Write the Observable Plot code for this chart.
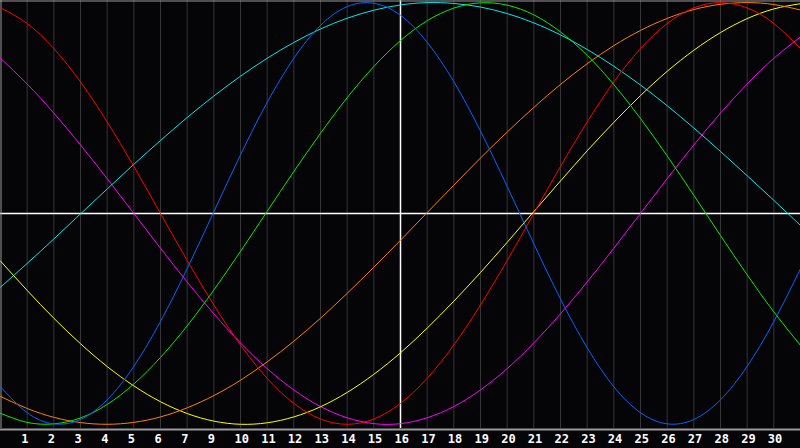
<!DOCTYPE html>
<html><head><meta charset="utf-8">
<script src="https://cdn.jsdelivr.net/npm/d3@7"></script>
<script src="https://cdn.jsdelivr.net/npm/@observablehq/plot@0.6"></script>
<style>html,body{margin:0;padding:0;background:#050508;overflow:hidden}</style>
</head><body><div id="chart"></div>
<script>
// day index (0..30) along the x axis
const days = [0,1,2,3,4,5,6,7,8,9,10,11,12,13,14,15,16,17,18,19,20,21,22,23,24,25,26,27,28,29,30];

// cycle values (-1..1)
const physical = [-0.822,-0.945,-0.998,-0.977,-0.884,-0.725,-0.512,-0.262,0.008,0.278,0.527,0.736,0.892,0.981,0.997,0.940,0.812,0.625,0.391,0.128,-0.144,-0.406,-0.637,-0.822,-0.945,-0.998,-0.977,-0.884,-0.725,-0.513,-0.262];
const emotional = [0.975,0.901,0.782,0.624,0.434,0.223,0.000,-0.223,-0.434,-0.624,-0.782,-0.901,-0.975,-1.000,-0.975,-0.901,-0.782,-0.624,-0.434,-0.223,0.000,0.223,0.434,0.624,0.782,0.901,0.975,1.000,0.975,0.901,0.782];
const intellectual = [-0.948,-0.991,-0.998,-0.970,-0.906,-0.809,-0.683,-0.533,-0.363,-0.180,0.010,0.199,0.380,0.549,0.697,0.820,0.914,0.974,0.999,0.988,0.942,0.861,0.750,0.611,0.450,0.273,0.086,-0.105,-0.291,-0.467,-0.626];
const intuitive = [0.736,0.614,0.476,0.325,0.165,0.000,-0.165,-0.325,-0.476,-0.614,-0.736,-0.837,-0.916,-0.969,-0.997,-0.997,-0.969,-0.916,-0.837,-0.736,-0.614,-0.476,-0.325,-0.165,0.000,0.165,0.325,0.476,0.614,0.736,0.837];
const aesthetic = [-0.226,-0.365,-0.497,-0.618,-0.726,-0.818,-0.893,-0.949,-0.985,-1.000,-0.993,-0.965,-0.917,-0.849,-0.763,-0.661,-0.544,-0.416,-0.280,-0.137,0.009,0.154,0.297,0.432,0.559,0.674,0.774,0.858,0.924,0.970,0.995];
const awareness = [-0.868,-0.925,-0.967,-0.992,-1.000,-0.991,-0.965,-0.922,-0.864,-0.791,-0.704,-0.606,-0.497,-0.379,-0.255,-0.127,0.004,0.134,0.263,0.386,0.503,0.612,0.710,0.796,0.868,0.925,0.967,0.992,1.000,0.991,0.965];
const spiritual = [-0.350,-0.237,-0.121,-0.002,0.116,0.233,0.346,0.455,0.557,0.651,0.736,0.811,0.875,0.926,0.964,0.989,1.000,0.996,0.979,0.948,0.904,0.847,0.778,0.698,0.609,0.511,0.405,0.294,0.179,0.062,-0.057];

const seriesNames = ["intuitive","spiritual","aesthetic","awareness","emotional","intellectual","physical"];
const seriesColors = ["#ff00ff","#00e8e8","#ffff00","#ff8000","#ff0000","#00ee00","#0066ff"];
const seriesValues = [intuitive, spiritual, aesthetic, awareness, emotional, intellectual, physical];

// x tick positions and their labels (as printed, "8" absent)
const tickPositions = [1,2,3,4,5,6,7,8,9,10,11,12,13,14,15,16,17,18,19,20,21,22,23,24,25,26,27,28,29];
const tickLabels = ["1","2","3","4","5","6","7","9","10","11","12","13","14","15","16","17","18","19","20","21","22","23","24","25","26","27","28","29","30"];
const todayPos = 15;

const rows = [];
seriesNames.forEach((name, k) => days.forEach((d, i) => rows.push({day: d, value: seriesValues[k][i], series: name})));

const xDomain = [0, 30];
const yDomain = [-1.02, 1.01];

const chart = Plot.plot({
  width: 800,
  height: 448,
  marginLeft: 0,
  marginRight: 0,
  marginTop: 0,
  marginBottom: 20,
  style: {background: "#050508", color: "#fff", overflow: "visible"},
  x: {domain: xDomain, axis: null},
  y: {domain: yDomain, axis: null},
  color: {domain: seriesNames, range: seriesColors},
  marks: [
    Plot.ruleX(tickPositions.filter(d => d !== todayPos), {stroke: "#363636", strokeWidth: 1}),
    Plot.ruleY([0], {stroke: "#ffffff", strokeWidth: 1.5}),
    Plot.ruleX([todayPos], {stroke: "#ffffff", strokeWidth: 1.5}),
    Plot.ruleX([xDomain[0]], {stroke: "#9a9a9a", dx: 0.5}),
    Plot.ruleY([yDomain[1]], {stroke: "#9a9a9a", dy: 0.5}),
    Plot.ruleY([yDomain[0]], {stroke: "#9a9a9a", strokeWidth: 2, dy: 1}),
    Plot.line(rows, {x: "day", y: "value", z: "series", stroke: "series", strokeWidth: 1, curve: "natural"}),
    Plot.axisX({
      ticks: tickPositions,
      tickFormat: (d) => tickLabels[tickPositions.indexOf(d)],
      label: null,
      tickSize: 0,
      tickPadding: 6,
      textAnchor: "start",
      dx: -6,
      fill: "#ffffff",
      fontSize: 12,
      fontWeight: "bold",
      fontFamily: "DejaVu Sans Mono"
    })
  ]
});
document.getElementById("chart").appendChild(chart);
</script>
</body></html>
